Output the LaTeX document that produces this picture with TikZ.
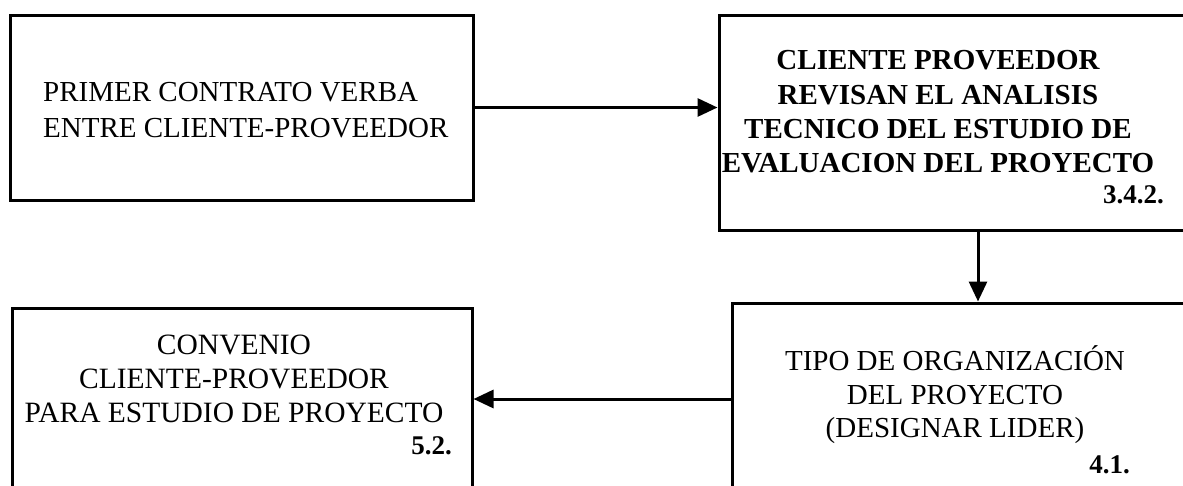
\documentclass[tikz,border=0pt]{standalone}
\usepackage{fontspec}
\setmainfont{Liberation Serif}
\usetikzlibrary{arrows.meta}
\begin{document}
\begin{tikzpicture}[x=1pt,y=-1pt,
  box/.style={draw=black,line width=3pt,rectangle,inner sep=0pt},
  txt/.style={inner sep=0pt,align=center,font=\fontsize{29}{34}\selectfont},
  num/.style={inner sep=0pt,font=\bfseries\fontsize{27}{30}\selectfont},
  conn/.style={line width=3pt,-{Triangle[length=20pt,width=18pt]}}]
\useasboundingbox (0,0) rectangle (1183,485);
\clip (0,0) rectangle (1183,485);
% boxes
\node[box,minimum width=463pt,minimum height=185pt] (b1) at (241.5,107.5) {};
\node[box,minimum width=481pt,minimum height=215pt] (b2) at (959.5,122.5) {};
\node[box,minimum width=460pt,minimum height=192pt] (b3) at (242,404) {};
\node[box,minimum width=478pt,minimum height=192pt] (b4) at (971,399) {};
% texts
\node[txt,align=left,anchor=west,font=\fontsize{29}{36}\selectfont] (t1) at (43,110) {PRIMER CONTRATO VERBA\\ENTRE CLIENTE-PROVEEDOR};
\node[txt,font=\bfseries\fontsize{29}{34.3}\selectfont] (t2) at (938,112) {CLIENTE PROVEEDOR\\REVISAN EL ANALISIS\\TECNICO DEL ESTUDIO DE\\EVALUACION DEL PROYECTO};
\node[num,anchor=base east] (n2) at (1164,203) {3.4.2.};
\node[txt,font=\fontsize{29.5}{34}\selectfont] (t3) at (234,379) {CONVENIO\\CLIENTE-PROVEEDOR\\PARA ESTUDIO DE PROYECTO};
\node[num,anchor=base east] (n3) at (452,454) {5.2.};
\node[txt,font=\fontsize{29}{33.5}\selectfont] (t4) at (955,395) {TIPO DE ORGANIZACIÓN\\DEL PROYECTO\\(DESIGNAR LIDER)};
\node[num,anchor=base east] (n4) at (1130,473) {4.1.};
% connectors
\coordinate (v) at (978,0);
\draw[conn] (b1.east) -- (b1.east -| b2.west);
\draw[conn] (v |- b2.south) -- (v |- b4.north);
\draw[conn] (b4.west) -- (b4.west -| b3.east);
\end{tikzpicture}
\end{document}
